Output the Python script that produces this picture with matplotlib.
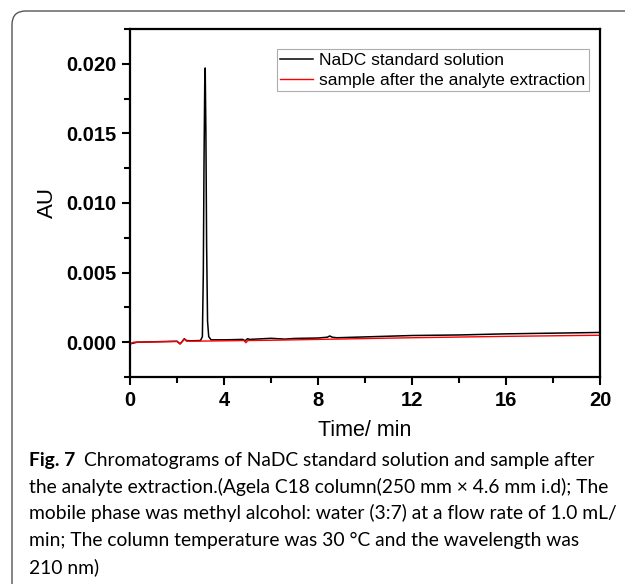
import matplotlib
matplotlib.use("Agg")
import matplotlib.pyplot as plt
from matplotlib.patches import FancyBboxPatch
from matplotlib.ticker import MultipleLocator

# ---- data ----
t_std = [0.0, 0.05, 0.3, 1.0, 1.5, 2.0, 2.13, 2.22, 2.31, 2.4, 2.6, 3.0, 3.08, 3.12, 3.15,
         3.18, 3.2, 3.23, 3.26, 3.3, 3.35, 3.45, 4.0, 4.8, 4.9, 5.0, 5.1, 6.0, 6.6,
         7.0, 8.0, 8.4, 8.5, 8.6, 8.8, 10.0, 12.0, 14.0, 16.0, 18.0, 20.0]
au_std = [-0.00002, -0.0001, 0.0, 0.00003, 0.00005, 0.00007, -0.00012, 0.00005, 0.00025,
          0.00012, 0.0001, 0.00012, 0.0004, 0.005, 0.013, 0.0185, 0.0197, 0.015, 0.007,
          0.0015, 0.0004, 0.00017, 0.00017, 0.0002, 0.0001, 0.00025, 0.0002, 0.00028,
          0.00022, 0.00027, 0.0003, 0.00036, 0.00045, 0.00036, 0.00032, 0.00038,
          0.00048, 0.00052, 0.0006, 0.00065, 0.0007]

t_smp = [0.0, 0.05, 0.15, 1.0, 2.0, 2.13, 2.22, 2.31, 2.4, 3.0, 4.0, 4.85, 4.93, 5.02,
         6.0, 8.0, 10.0, 12.0, 14.0, 16.0, 18.0, 20.0]
au_smp = [0.0, -0.0001, 0.0, 0.00002, 0.00005, -0.00012, 0.00004, 0.00022, 0.00008,
          0.00008, 0.0001, 0.00012, -0.00004, 0.00012, 0.00014, 0.0002, 0.00026,
          0.00032, 0.00037, 0.00042, 0.00046, 0.0005]

series_labels = ["NaDC standard solution", "sample after the analyte extraction"]
x_ticks = [0, 4, 8, 12, 16, 20]
y_ticks = [0.000, 0.005, 0.010, 0.015, 0.020]
y_ticklabels = ["0.000", "0.005", "0.010", "0.015", "0.020"]
x_label = "Time/ min"
y_label = "AU"
caption_bold = "Fig. 7"
caption_lines = [
    "Chromatograms of NaDC standard solution and sample after",
    "the analyte extraction.(Agela C18 column(250 mm \u00d7 4.6 mm i.d); The",
    "mobile phase was methyl alcohol: water (3:7) at a flow rate of 1.0 mL/",
    "min; The column temperature was 30 \u00b0C and the wavelength was",
    "210 nm)",
]

W, H = 625, 584
fig = plt.figure(figsize=(W / 100, H / 100), dpi=100)

# rounded frame
frame = FancyBboxPatch((12 / W, -40 / H), (W + 40) / W, (H + 40 - 11) / H,
                       boxstyle="round,pad=0,rounding_size=0.022",
                       transform=fig.transFigure, fill=False,
                       edgecolor="#555555", linewidth=1.0, mutation_aspect=W / H)
fig.patches.append(frame)

ax = fig.add_axes([130 / W, 1 - 377 / H, 470 / W, 348 / H])
ax.plot(t_std, au_std, color="black", lw=1.1, label=series_labels[0])
ax.plot(t_smp, au_smp, color="red", lw=1.0, label=series_labels[1])

ax.set_xlim(0, 20)
ax.set_ylim(-0.0025, 0.0225)
ax.set_xticks(x_ticks)
ax.set_xticklabels([str(v) for v in x_ticks])
ax.set_yticks(y_ticks)
ax.set_yticklabels(y_ticklabels)
ax.xaxis.set_minor_locator(MultipleLocator(2))
ax.yaxis.set_minor_locator(MultipleLocator(0.0025))

for s in ax.spines.values():
    s.set_linewidth(1.6)
ax.tick_params(which="major", direction="out", length=6, width=1.5,
               labelsize=14.5, pad=4, top=False, right=False)
ax.tick_params(which="minor", direction="out", length=4, width=1.5,
               top=False, right=False)
for lab in ax.get_xticklabels() + ax.get_yticklabels():
    lab.set_fontweight("bold")
    lab.set_family("Liberation Sans")

ax.set_xlabel(x_label, fontsize=15.5, family="Liberation Sans", labelpad=7)
ax.set_ylabel(y_label, fontsize=16, family="Liberation Sans", labelpad=6)

leg = ax.legend(loc="upper right", bbox_to_anchor=(589 / W, 1 - 49 / H),
                bbox_transform=fig.transFigure, prop={"family": "Liberation Sans", "size": 12.5},
                frameon=True, fancybox=False, edgecolor="#999999", borderpad=0.2,
                handlelength=1.9, handletextpad=0.35, labelspacing=0.3, borderaxespad=0)
leg.get_frame().set_linewidth(0.8)

# caption
cap_font = "Lato"
bases = [466, 493, 519.5, 546, 573]
probe = fig.text(0, 0, caption_lines[1], fontsize=15, family=cap_font)
fig.canvas.draw()
w15 = probe.get_window_extent().width
probe.remove()
cap_size = 15 * (583 / w15)

fb = fig.text(29 / W, 1 - bases[0] / H, caption_bold, fontsize=cap_size,
              family=cap_font, fontweight="bold", va="baseline", ha="left")
fig.canvas.draw()
bb = fb.get_window_extent()
x_after = bb.x1 / W + 9 / W
fig.text(x_after, 1 - bases[0] / H, caption_lines[0], fontsize=cap_size,
         family=cap_font, va="baseline", ha="left")
for line, b in zip(caption_lines[1:], bases[1:]):
    fig.text(29 / W, 1 - b / H, line, fontsize=cap_size, family=cap_font,
             va="baseline", ha="left")

fig.savefig("out.png", dpi=100)
